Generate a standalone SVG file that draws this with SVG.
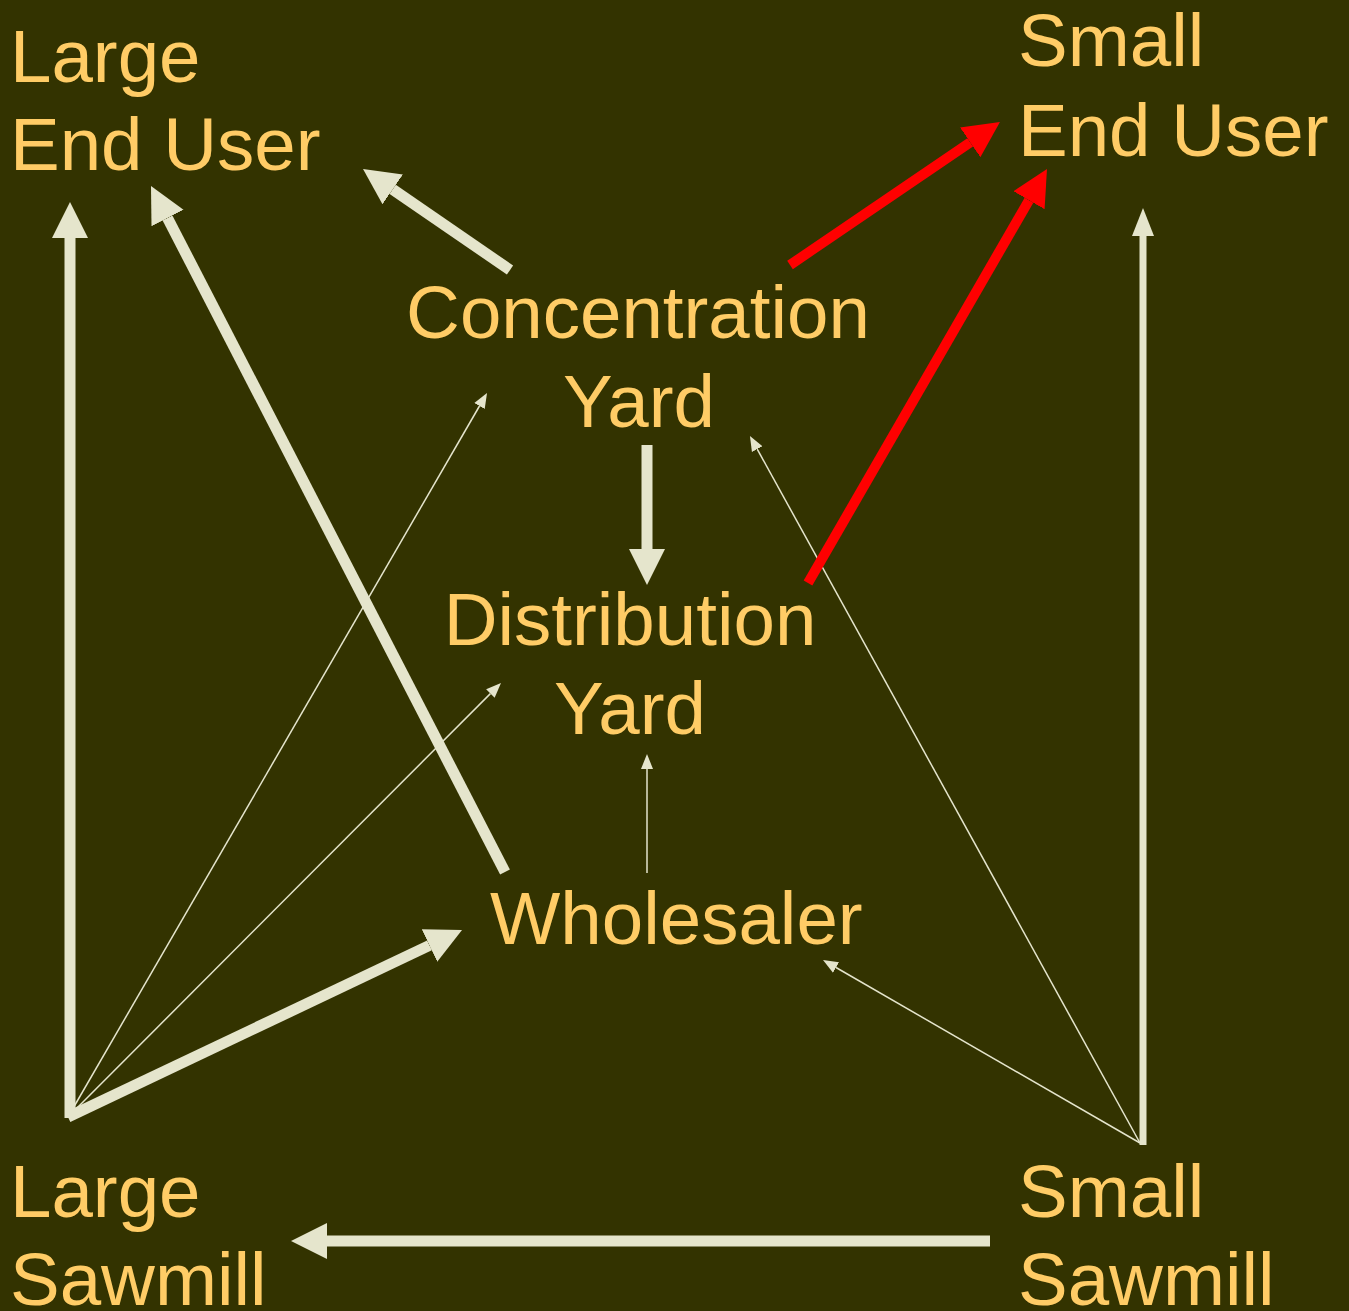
<svg xmlns="http://www.w3.org/2000/svg" width="1349" height="1311" viewBox="0 0 1349 1311">
<style>
.t{font-family:"Liberation Sans",Arial,sans-serif;font-size:74.5px;fill:#FFCC66}
.w{stroke:#E5E5CC;fill:none}
.thick{stroke-width:11;marker-end:url(#hb)}
.mid{stroke-width:7;marker-end:url(#hm)}
.thin{stroke-width:1.5;marker-end:url(#hs)}
.red{stroke:#FF0000;stroke-width:10;fill:none;marker-end:url(#hr)}
</style>
<defs>
<marker id="hb" markerUnits="userSpaceOnUse" markerWidth="40" markerHeight="40" viewBox="0 -20 40 40" refX="0" refY="0" orient="auto"><path d="M0,-18 L36,0 L0,18 z" fill="#E5E5CC"/></marker>
<marker id="hm" markerUnits="userSpaceOnUse" markerWidth="32" markerHeight="32" viewBox="0 -16 32 32" refX="0" refY="0" orient="auto"><path d="M0,-11 L28,0 L0,11 z" fill="#E5E5CC"/></marker>
<marker id="hs" markerUnits="userSpaceOnUse" markerWidth="18" markerHeight="18" viewBox="0 -9 18 18" refX="0" refY="0" orient="auto"><path d="M0,-6 L15,0 L0,6 z" fill="#E5E5CC"/></marker>
<marker id="hr" markerUnits="userSpaceOnUse" markerWidth="40" markerHeight="40" viewBox="0 -20 40 40" refX="0" refY="0" orient="auto"><path d="M0,-18 L36,0 L0,18 z" fill="#FF0000"/></marker>
</defs>
<rect width="1349" height="1311" fill="#333300"/>
<g id="connectors">
<line class="w thick" x1="70" y1="1118" x2="70" y2="238"/>
<line class="w thick" x1="505" y1="872" x2="167.5" y2="218"/>
<line class="w thick" x1="510" y1="270" x2="392.7" y2="189.4"/>
<line class="w thick" x1="647" y1="445" x2="647" y2="549"/>
<line class="w thick" x1="990" y1="1241" x2="327" y2="1241"/>
<line class="w thick" x1="68" y1="1117" x2="429.5" y2="945.4"/>
<line class="w mid" x1="1143" y1="1145" x2="1143" y2="236"/>
<line class="w thin" x1="68" y1="1117" x2="479.5" y2="406"/>
<line class="w thin" x1="68" y1="1117" x2="490.4" y2="693.6"/>
<line class="w thin" x1="647" y1="873" x2="647" y2="769"/>
<line class="w thin" x1="1140" y1="1143" x2="757.2" y2="449.1"/>
<line class="w thin" x1="1140" y1="1143" x2="836" y2="967.5"/>
<line class="red" x1="790" y1="265" x2="970.2" y2="142.3"/>
<line class="red" x1="808" y1="583" x2="1029" y2="200.2"/>
</g>
<g id="large-end-user"><text class="t" x="10" y="82">Large</text><text class="t" x="10" y="170">End User</text></g>
<g id="small-end-user"><text class="t" x="1018" y="66">Small</text><text class="t" x="1018" y="156">End User</text></g>
<g id="concentration-yard"><text class="t" x="638" y="338" text-anchor="middle">Concentration</text><text class="t" x="639" y="427" text-anchor="middle">Yard</text></g>
<g id="distribution-yard"><text class="t" x="630" y="645" text-anchor="middle">Distribution</text><text class="t" x="630" y="734" text-anchor="middle">Yard</text></g>
<g id="wholesaler"><text class="t" x="490" y="944">Wholesaler</text></g>
<g id="large-sawmill"><text class="t" x="10" y="1217">Large</text><text class="t" x="10" y="1305">Sawmill</text></g>
<g id="small-sawmill"><text class="t" x="1018" y="1217">Small</text><text class="t" x="1018" y="1305">Sawmill</text></g>
</svg>
